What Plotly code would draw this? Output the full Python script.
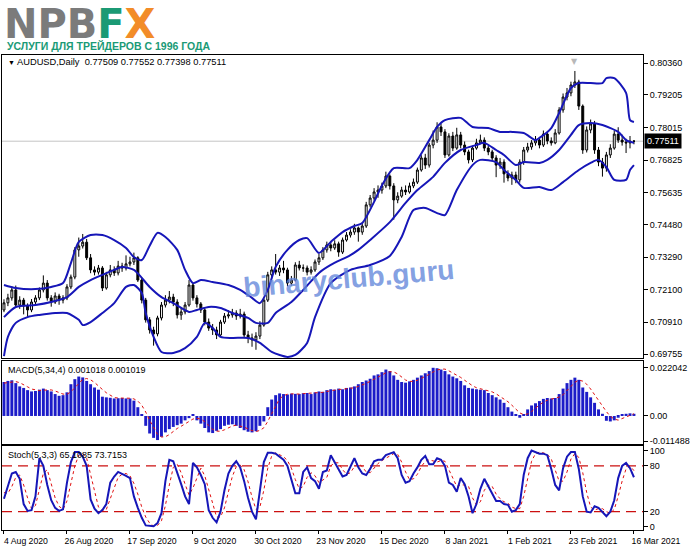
import plotly.graph_objects as go

# ---------------- data ----------------
opens = [
0.7136,0.7162,0.7180,0.7209,0.7154,0.7172,0.7151,0.7136,0.7165,0.7180,
0.7209,0.7234,0.7180,0.7165,0.7187,0.7172,0.7180,0.7220,0.7256,0.7355,
0.7369,0.7383,0.7326,0.7282,0.7274,0.7289,0.7216,0.7264,0.7282,0.7271,
0.7296,0.7289,0.7304,0.7311,0.7326,0.7245,0.7172,0.7100,0.7063,0.7049,
0.7107,0.7154,0.7172,0.7183,0.7165,0.7118,0.7129,0.7154,0.7227,0.7180,
0.7158,0.7136,0.7092,0.7070,0.7063,0.7045,0.7092,0.7114,0.7118,0.7125,
0.7114,0.7121,0.7045,0.7034,0.7027,0.7041,0.7081,0.7172,0.7264,0.7282,
0.7274,0.7289,0.7282,0.7234,0.7245,0.7300,0.7289,0.7289,0.7274,0.7282,
0.7311,0.7326,0.7355,0.7373,0.7362,0.7377,0.7347,0.7391,0.7409,0.7420,
0.7435,0.7420,0.7442,0.7519,0.7544,0.7566,0.7573,0.7588,0.7624,0.7588,
0.7537,0.7551,0.7573,0.7566,0.7588,0.7602,0.7646,0.7690,0.7664,0.7737,
0.7755,0.7803,0.7785,0.7701,0.7770,0.7726,0.7774,0.7737,0.7712,0.7683,
0.7726,0.7745,0.7755,0.7726,0.7712,0.7690,0.7664,0.7675,0.7632,0.7617,
0.7628,0.7610,0.7675,0.7719,0.7730,0.7745,0.7755,0.7737,0.7777,0.7752,
0.7745,0.7781,0.7865,0.7912,0.7927,0.7956,0.7967,0.7879,0.7719,0.7792,
0.7814,0.7719,0.7675,0.7653,0.7701,0.7726,0.7777,0.7755,0.7748,0.7745,
0.77509]

closes = [
0.7162,0.7180,0.7209,0.7154,0.7172,0.7151,0.7136,0.7165,0.7180,0.7209,
0.7234,0.7180,0.7165,0.7187,0.7172,0.7180,0.7220,0.7256,0.7355,0.7369,
0.7383,0.7326,0.7282,0.7274,0.7289,0.7216,0.7264,0.7282,0.7271,0.7296,
0.7289,0.7304,0.7311,0.7326,0.7245,0.7172,0.7100,0.7063,0.7049,0.7107,
0.7154,0.7172,0.7183,0.7165,0.7118,0.7129,0.7154,0.7227,0.7180,0.7158,
0.7136,0.7092,0.7070,0.7063,0.7045,0.7092,0.7114,0.7118,0.7125,0.7114,
0.7121,0.7045,0.7034,0.7027,0.7041,0.7081,0.7172,0.7264,0.7282,0.7274,
0.7289,0.7282,0.7234,0.7245,0.7300,0.7289,0.7289,0.7274,0.7282,0.7311,
0.7326,0.7355,0.7373,0.7362,0.7377,0.7347,0.7391,0.7409,0.7420,0.7435,
0.7420,0.7442,0.7519,0.7544,0.7566,0.7573,0.7588,0.7624,0.7588,0.7537,
0.7551,0.7573,0.7566,0.7588,0.7602,0.7646,0.7690,0.7664,0.7737,0.7755,
0.7803,0.7785,0.7701,0.7770,0.7726,0.7774,0.7737,0.7712,0.7683,0.7726,
0.7745,0.7755,0.7726,0.7712,0.7690,0.7664,0.7675,0.7632,0.7617,0.7628,
0.7610,0.7675,0.7719,0.7730,0.7745,0.7755,0.7737,0.7777,0.7752,0.7745,
0.7781,0.7865,0.7912,0.7927,0.7956,0.7967,0.7879,0.7719,0.7792,0.7814,
0.7719,0.7675,0.7653,0.7701,0.7726,0.7777,0.7755,0.7748,0.7745,0.7751,
0.77511]

highs = [
0.7175,0.7195,0.7222,0.7225,0.7186,0.7180,0.7160,0.7176,0.7190,0.7218,
0.7262,0.7245,0.7190,0.7200,0.7195,0.7190,0.7230,0.7265,0.7365,0.7400,
0.7413,0.7395,0.7340,0.7295,0.7300,0.7296,0.7275,0.7300,0.7295,0.7315,
0.7308,0.7335,0.7330,0.7345,0.7332,0.7255,0.7180,0.7110,0.7075,0.7115,
0.7165,0.7190,0.7205,0.7195,0.7175,0.7145,0.7165,0.7245,0.7235,0.7190,
0.7165,0.7145,0.7105,0.7085,0.7075,0.7100,0.7125,0.7135,0.7140,0.7135,
0.7140,0.7130,0.7060,0.7050,0.7055,0.7095,0.7180,0.7275,0.7295,0.7340,
0.7300,0.7315,0.7290,0.7260,0.7310,0.7315,0.7302,0.7298,0.7295,0.7320,
0.7340,0.7365,0.7385,0.7385,0.7390,0.7385,0.7400,0.7420,0.7430,0.7450,
0.7440,0.7455,0.7530,0.7555,0.7580,0.7590,0.7600,0.7640,0.7630,0.7598,
0.7565,0.7585,0.7590,0.7600,0.7615,0.7655,0.7700,0.7705,0.7745,0.7790,
0.7820,0.7815,0.7795,0.7780,0.7785,0.7800,0.7785,0.7750,0.7720,0.7735,
0.7760,0.7775,0.7765,0.7735,0.7720,0.7700,0.7690,0.7685,0.7645,0.7640,
0.7640,0.7685,0.7730,0.7745,0.7755,0.7770,0.7765,0.7790,0.7785,0.7765,
0.7795,0.7875,0.7925,0.7945,0.7968,0.8007,0.7975,0.7885,0.7805,0.7830,
0.7825,0.7730,0.7690,0.7712,0.7740,0.7790,0.7802,0.7775,0.7760,0.7770,
0.77552]

lows = [
0.7128,0.7150,0.7170,0.7145,0.7140,0.7120,0.7110,0.7128,0.7155,0.7172,
0.7200,0.7170,0.7148,0.7158,0.7155,0.7160,0.7172,0.7212,0.7248,0.7330,
0.7360,0.7318,0.7270,0.7262,0.7265,0.7205,0.7210,0.7255,0.7260,0.7262,
0.7275,0.7280,0.7295,0.7300,0.7238,0.7160,0.7090,0.7050,0.7006,0.7040,
0.7098,0.7145,0.7160,0.7150,0.7105,0.7100,0.7120,0.7148,0.7170,0.7145,
0.7125,0.7080,0.7060,0.7045,0.7030,0.7040,0.7085,0.7105,0.7108,0.7100,
0.7105,0.7035,0.7015,0.7002,0.6991,0.7030,0.7075,0.7165,0.7250,0.7265,
0.7260,0.7270,0.7222,0.7225,0.7240,0.7280,0.7275,0.7262,0.7265,0.7275,
0.7300,0.7318,0.7345,0.7350,0.7355,0.7330,0.7340,0.7385,0.7400,0.7410,
0.7385,0.7410,0.7435,0.7510,0.7535,0.7545,0.7560,0.7580,0.7575,0.7465,
0.7525,0.7545,0.7555,0.7560,0.7580,0.7595,0.7640,0.7650,0.7655,0.7725,
0.7745,0.7770,0.7690,0.7695,0.7715,0.7720,0.7725,0.7700,0.7670,0.7675,
0.7720,0.7740,0.7715,0.7700,0.7680,0.7620,0.7650,0.7600,0.7605,0.7592,
0.7598,0.7600,0.7665,0.7710,0.7720,0.7735,0.7725,0.7730,0.7740,0.7735,
0.7740,0.7775,0.7855,0.7900,0.7915,0.7945,0.7865,0.7705,0.7710,0.7780,
0.7705,0.7660,0.7622,0.7640,0.7690,0.7720,0.7745,0.7735,0.7708,0.7725,
0.77398]

bar_index = list(range(len(closes)))

bb_upper_idx = [0,3,8,12,15,17,19,22,25,28,31,33,35,37,39,41,44,46,48,50,
                53,57,60,63,65,67,69,72,75,77,80,83,86,89,91,94,96,99,103,105,
                108,110,112,116,119,123,126,129,132,135,136,139,141,144,146,149,152,153,155,158,
                159,160]
bb_upper = [0.7227,0.7216,0.7212,0.7220,0.7234,0.7307,0.7384,0.7409,0.7409,0.7391,
            0.7362,0.7329,0.7318,0.7370,0.7417,0.7402,0.7355,0.7282,0.7234,0.7245,
            0.7238,0.7227,0.7209,0.7180,0.7161,0.7209,0.7293,0.7355,0.7391,0.7398,
            0.7344,0.7384,0.7420,0.7442,0.7453,0.7530,0.7590,0.7653,0.7653,0.7683,
            0.7755,0.7803,0.7828,0.7836,0.7803,0.7799,0.7785,0.7785,0.7781,0.7755,
            0.7763,0.7799,0.7854,0.7945,0.7963,0.7963,0.7963,0.7981,0.7981,0.7927,
            0.7828,0.7821]

bb_mid_idx = [0,3,8,12,16,19,22,25,28,30,33,35,37,40,43,47,49,52,55,58,
              62,64,67,69,73,76,80,83,88,90,93,98,102,105,109,112,116,120,122,125,
              127,130,132,136,138,141,144,146,149,152,156,158,160]
bb_mid = [0.7110,0.7147,0.7154,0.7165,0.7183,0.7220,0.7245,0.7264,0.7282,0.7293,
          0.7282,0.7253,0.7220,0.7183,0.7161,0.7129,0.7136,0.7147,0.7143,0.7125,
          0.7107,0.7089,0.7089,0.7125,0.7165,0.7209,0.7271,0.7300,0.7336,0.7355,
          0.7391,0.7456,0.7526,0.7573,0.7621,0.7672,0.7719,0.7737,0.7745,0.7719,
          0.7701,0.7664,0.7675,0.7672,0.7683,0.7719,0.7774,0.7810,0.7817,0.7810,
          0.7785,0.7755,0.7745]

bb_lower_idx = [0,1,3,6,9,13,16,19,20,22,25,28,31,33,35,36,38,40,43,46,
                49,51,53,55,58,62,65,68,72,74,77,79,83,88,93,98,101,104,107,110,
                112,115,119,121,125,127,130,132,136,139,142,146,149,151,153,155,158,159,160]
bb_lower = [0.6968,0.7038,0.7089,0.7110,0.7118,0.7125,0.7125,0.7100,0.7081,0.7092,
            0.7125,0.7161,0.7220,0.7227,0.7198,0.7125,0.7038,0.6983,0.6979,0.6997,
            0.7038,0.7089,0.7070,0.7038,0.7034,0.7034,0.7016,0.6983,0.6965,0.6972,
            0.7016,0.7110,0.7234,0.7282,0.7300,0.7333,0.7402,0.7500,0.7508,0.7489,
            0.7482,0.7573,0.7664,0.7683,0.7675,0.7646,0.7610,0.7581,0.7584,0.7573,
            0.7602,0.7646,0.7672,0.7683,0.7657,0.7610,0.7610,0.7646,0.7664]

macd_hist = [
0.0155,0.0160,0.0163,0.0150,0.0135,0.0128,0.0118,0.0112,0.0114,0.0120,
0.0125,0.0118,0.0112,0.0100,0.0092,0.0095,0.0108,0.0145,0.0168,0.0180,
0.0176,0.0160,0.0145,0.0130,0.0120,0.0088,0.0085,0.0083,0.0080,0.0081,
0.0082,0.0080,0.0080,0.0070,0.0040,0.0005,-0.0045,-0.0080,-0.0100,-0.0110,
-0.0095,-0.0075,-0.0060,-0.0050,-0.0042,-0.0035,-0.0020,-0.0010,0.0008,-0.0020,
-0.0035,-0.0055,-0.0075,-0.0078,-0.0068,-0.0060,-0.0045,-0.0040,-0.0038,-0.0045,
-0.0055,-0.0065,-0.0072,-0.0075,-0.0070,-0.0045,-0.0025,0.0040,0.0075,0.0095,
0.0103,0.0100,0.0098,0.0102,0.0101,0.0100,0.0104,0.0105,0.0100,0.0108,
0.0112,0.0110,0.0118,0.0122,0.0120,0.0125,0.0122,0.0128,0.0130,0.0135,
0.0145,0.0155,0.0162,0.0170,0.0185,0.0190,0.0200,0.0212,0.0205,0.0185,
0.0165,0.0155,0.0152,0.0158,0.0165,0.0175,0.0185,0.0195,0.0205,0.0220,
0.0218,0.0212,0.0205,0.0190,0.0180,0.0172,0.0160,0.0140,0.0128,0.0125,
0.0122,0.0120,0.0118,0.0105,0.0095,0.0085,0.0075,0.0060,0.0040,0.0020,
0.0005,-0.0008,0.0008,0.0030,0.0048,0.0058,0.0068,0.0078,0.0082,0.0080,
0.0082,0.0100,0.0125,0.0150,0.0165,0.0175,0.0165,0.0130,0.0110,0.0085,
0.0060,0.0030,0.0010,-0.0022,-0.0025,-0.0020,-0.0008,0.0006,0.0010,0.0012,
0.0010]

macd_signal = [
0.0150,0.0153,0.0156,0.0157,0.0152,0.0144,0.0133,0.0123,0.0118,0.0116,
0.0118,0.0119,0.0119,0.0114,0.0106,0.0100,0.0099,0.0110,0.0129,0.0150,
0.0167,0.0171,0.0165,0.0153,0.0139,0.0121,0.0106,0.0094,0.0084,0.0082,
0.0082,0.0081,0.0081,0.0078,0.0068,0.0049,0.0018,-0.0020,-0.0055,-0.0084,
-0.0096,-0.0095,-0.0085,-0.0070,-0.0057,-0.0047,-0.0037,-0.0027,-0.0014,-0.0011,
-0.0014,-0.0026,-0.0046,-0.0061,-0.0069,-0.0070,-0.0063,-0.0053,-0.0046,-0.0042,
-0.0045,-0.0051,-0.0059,-0.0067,-0.0071,-0.0066,-0.0054,-0.0025,0.0011,0.0046,
0.0078,0.0093,0.0099,0.0101,0.0100,0.0100,0.0102,0.0103,0.0102,0.0104,
0.0106,0.0108,0.0112,0.0116,0.0118,0.0121,0.0122,0.0124,0.0126,0.0129,
0.0135,0.0141,0.0149,0.0158,0.0168,0.0177,0.0186,0.0197,0.0202,0.0201,
0.0192,0.0178,0.0164,0.0158,0.0158,0.0163,0.0171,0.0180,0.0190,0.0201,
0.0210,0.0214,0.0214,0.0206,0.0197,0.0187,0.0176,0.0163,0.0150,0.0138,
0.0129,0.0124,0.0121,0.0116,0.0110,0.0101,0.0090,0.0079,0.0065,0.0049,
0.0031,0.0014,0.0006,0.0009,0.0020,0.0036,0.0051,0.0063,0.0072,0.0077,
0.0081,0.0086,0.0097,0.0114,0.0135,0.0154,0.0164,0.0159,0.0145,0.0123,
0.0096,0.0071,0.0046,0.0020,-0.0002,-0.0014,-0.0019,-0.0012,-0.0003,0.0005,
0.0010]

stoch_main = [
37,53,70,72,63,30,21,22,40,90,
80,55,35,25,21,23,58,85,98,98,
92,80,36,24,18,22,30,58,66,72,
70,67,64,40,25,12,2,1,1,5,
18,60,88,86,72,56,40,30,84,78,
68,56,22,12,6,20,48,70,80,86,
78,60,38,20,10,48,85,97,97,96,
92,88,80,62,44,44,72,78,64,60,
50,72,74,94,84,74,66,68,80,90,
78,70,68,76,86,88,88,94,96,98,
90,68,58,60,70,78,88,93,82,82,
90,88,80,58,55,46,64,56,40,18,
30,50,63,53,42,34,34,30,29,20,
22,30,68,90,100,98,96,96,94,76,
55,48,77,92,98,98,76,40,20,19,
27,25,20,14,20,35,64,80,84,77,
65.1085]

stoch_signal = [
45,44,53,65,68,55,38,24,28,51,
70,75,57,38,27,23,34,55,80,94,
96,90,69,47,26,21,23,37,51,65,
69,70,67,57,43,26,13,5,1,2,
8,28,55,78,82,71,56,42,51,64,
77,67,49,30,13,13,25,46,66,79,
81,75,59,39,23,26,48,77,93,97,
95,92,87,77,62,50,53,65,71,67,
58,61,65,80,84,84,75,69,71,79,
83,79,72,71,77,83,87,90,93,96,
95,85,72,62,63,69,79,86,88,86,
85,87,86,75,64,53,55,55,53,38,
29,33,48,55,53,43,37,33,31,26,
24,24,40,63,86,96,98,97,95,89,
75,60,60,72,89,96,91,71,45,26,
22,24,24,20,18,23,40,60,76,80,
73.7153]

stoch_levels = [80, 20]
last_price = 0.77511

date_tick_idx = [0, 16, 32, 48, 64, 80, 96, 112, 128, 144, 160]
date_labels = ["4 Aug 2020", "26 Aug 2020", "17 Sep 2020", "9 Oct 2020", "30 Oct 2020",
               "23 Nov 2020", "15 Dec 2020", "8 Jan 2021", "1 Feb 2021", "23 Feb 2021",
               "16 Mar 2021"]
price_ticks = [0.80360, 0.79205, 0.78015, 0.76825, 0.75635, 0.74480, 0.73290, 0.72100, 0.70910, 0.69755]
macd_ticks = [0.022042, 0.0, -0.011488]
macd_tick_text = ["0.022042", "0.00", "-0.011488"]
stoch_ticks = [100, 80, 20, 0]

# ---------------- layout helpers (pixel -> paper) ----------------
W, H = 691, 549
ML, MR, MT, MB = 1, 46, 55, 19
PW, PH = W - ML - MR, H - MT - MB


def px_x(x):
    return (x - ML) / PW


def px_y(y):
    return (H - MB - y) / PH


FONT = "Liberation Sans, Arial, sans-serif"
BLUE = "#1616b8"

fig = go.Figure()

fig.add_trace(go.Candlestick(
    x=bar_index, open=opens, high=highs, low=lows, close=closes,
    xaxis="x", yaxis="y", whiskerwidth=0,
    increasing=dict(line=dict(color="black", width=1), fillcolor="white"),
    decreasing=dict(line=dict(color="black", width=1), fillcolor="black"),
    showlegend=False, hoverinfo="skip"))

for xs, ys in ((bb_upper_idx, bb_upper), (bb_mid_idx, bb_mid), (bb_lower_idx, bb_lower)):
    fig.add_trace(go.Scatter(x=xs, y=ys, mode="lines", xaxis="x", yaxis="y",
                             line=dict(color=BLUE, width=2, shape="spline", smoothing=0.7),
                             showlegend=False, hoverinfo="skip"))

fig.add_trace(go.Bar(x=bar_index, y=macd_hist, xaxis="x2", yaxis="y2",
                     marker=dict(color="#1c1cc8", line=dict(width=0)),
                     showlegend=False, hoverinfo="skip"))
fig.add_trace(go.Scatter(x=bar_index, y=macd_signal, mode="lines", xaxis="x2", yaxis="y2",
                         line=dict(color="#e01010", width=1, dash="dot"),
                         showlegend=False, hoverinfo="skip"))

fig.add_trace(go.Scatter(x=bar_index, y=stoch_signal, mode="lines", xaxis="x3", yaxis="y3",
                         line=dict(color="#e01010", width=1, dash="dot"),
                         showlegend=False, hoverinfo="skip"))
fig.add_trace(go.Scatter(x=bar_index, y=stoch_main, mode="lines", xaxis="x3", yaxis="y3",
                         line=dict(color=BLUE, width=2),
                         showlegend=False, hoverinfo="skip"))

shapes = [dict(type="line", xref="paper", x0=0, x1=1, yref="y", y0=last_price, y1=last_price,
               line=dict(color="#c4c4c4", width=1), layer="below")]
for lv in stoch_levels:
    shapes.append(dict(type="line", xref="paper", x0=0, x1=1, yref="y3", y0=lv, y1=lv,
                       line=dict(color="#cc1010", width=1.3, dash="10px,6px"), layer="below"))

xr = [-0.5, 162.3]
axis_common = dict(showline=True, linecolor="black", linewidth=1, mirror=True,
                   showgrid=False, zeroline=False)
yaxis_common = dict(axis_common, side="right", ticks="outside", ticklen=4, tickwidth=1,
                    tickcolor="black", tickfont=dict(family=FONT, size=9, color="black"),
                    fixedrange=True)

fig.update_layout(
    width=W, height=H,
    margin=dict(l=ML, r=MR, t=MT, b=MB),
    paper_bgcolor="white", plot_bgcolor="white",
    bargap=0.25, showlegend=False,
    font=dict(family=FONT, color="black"),
    xaxis=dict(axis_common, domain=[0, 1], anchor="y", range=xr, showticklabels=False,
               rangeslider=dict(visible=False)),
    xaxis2=dict(axis_common, domain=[0, 1], anchor="y2", range=xr, showticklabels=False,
                matches="x"),
    xaxis3=dict(axis_common, domain=[0, 1], anchor="y3", range=xr, matches="x",
                tickvals=date_tick_idx, ticktext=date_labels, ticks="outside", ticklen=3,
                tickcolor="black", ticklabelshift=22,
                tickfont=dict(family=FONT, size=8.7, color="black")),
    yaxis=dict(yaxis_common, domain=[px_y(358), 1], anchor="x", range=[0.6961, 0.80652],
               tickvals=price_ticks, ticktext=[f"{v:.5f}" for v in price_ticks]),
    yaxis2=dict(yaxis_common, domain=[px_y(444), px_y(361)], anchor="x2",
                range=[-0.0128, 0.0251], tickvals=macd_ticks, ticktext=macd_tick_text),
    yaxis3=dict(yaxis_common, domain=[0, px_y(446)], anchor="x3", range=[-4, 106],
                tickvals=stoch_ticks, ticktext=[str(v) for v in stoch_ticks]),
    shapes=shapes,
)

peak_idx = highs.index(max(highs))

ann = []
ann.append(dict(xref="paper", yref="paper", x=px_x(2), y=px_y(0), xanchor="left", yanchor="top",
                showarrow=False, borderpad=0,
                text="<b>NPB<span style='color:#1b9a74'>F</span><span style='color:#f28c28'>X</span></b>",
                font=dict(family="DejaVu Sans, " + FONT, size=40, color="#7b7b7b")))
ann.append(dict(xref="paper", yref="paper", x=px_x(4), y=px_y(46), xanchor="left", yanchor="middle",
                showarrow=False, text="<b>УСЛУГИ ДЛЯ ТРЕЙДЕРОВ С 1996 ГОДА</b>",
                font=dict(family="Liberation Sans Narrow, " + FONT, size=10.5, color="#1a9a76")))
ann.append(dict(xref="paper", yref="paper", x=px_x(5), y=px_y(62), xanchor="left", yanchor="middle",
                showarrow=False,
                text="<span style='font-size:7px'>▼</span> AUDUSD,Daily  0.77509 0.77552 0.77398 0.77511",
                font=dict(family=FONT, size=9.3, color="black")))
ann.append(dict(xref="paper", yref="paper", x=px_x(5), y=px_y(370), xanchor="left", yanchor="middle",
                showarrow=False, text="MACD(5,34,4) 0.001018 0.001019",
                font=dict(family=FONT, size=9, color="black")))
ann.append(dict(xref="paper", yref="paper", x=px_x(5), y=px_y(455), xanchor="left", yanchor="middle",
                showarrow=False, text="Stoch(5,3,3) 65.1085 73.7153",
                font=dict(family=FONT, size=9, color="black")))
ann.append(dict(xref="paper", yref="paper", x=px_x(350), y=px_y(278), xanchor="center", yanchor="middle",
                showarrow=False, text="<b>binaryclub.guru</b>", textangle=-5,
                font=dict(family=FONT, size=28, color="rgba(100,135,218,0.8)")))
ann.append(dict(xref="x", yref="paper", x=peak_idx, y=1, xanchor="center", yanchor="top",
                showarrow=False, text="▼", font=dict(family="DejaVu Sans", size=8, color="#b8b8b8")))
ann.append(dict(xref="paper", yref="y", x=1, y=last_price, xanchor="left", yanchor="middle",
                xshift=1, showarrow=False, text="0.77511", bgcolor="black", borderpad=2,
                font=dict(family=FONT, size=9, color="white")))
fig.update_layout(annotations=ann)

fig.write_html("out.html", config={"displayModeBar": False},
               post_script="document.body.style.margin='0';document.body.style.padding='0';")
